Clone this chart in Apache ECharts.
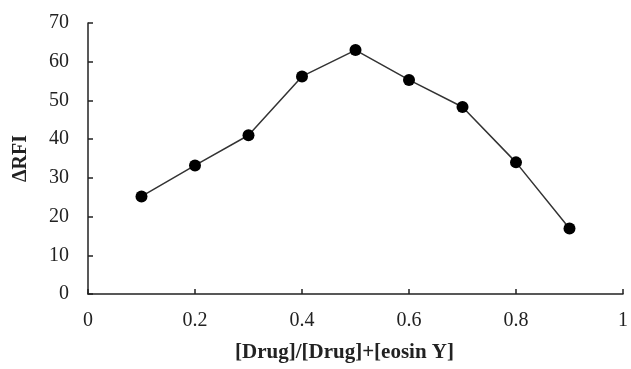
<!DOCTYPE html>
<html><head><meta charset="utf-8">
<script src="https://cdn.jsdelivr.net/npm/echarts@6/dist/echarts.min.js"></script>
<style>html,body{margin:0;padding:0;background:#fff}#c{width:631px;height:369px}</style>
</head><body><div id="c"></div>
<script>
const xValues = [0.1, 0.2, 0.3, 0.4, 0.5, 0.6, 0.7, 0.8, 0.9];
const yValues = [25.2, 33.2, 41, 56.2, 63, 55.3, 48.3, 34, 16.9];
const xTitle = '[Drug]/[Drug]+[eosin Y]';
const yTitle = 'ΔRFI';
const font = '"Liberation Serif","Times New Roman",serif';
const chart = echarts.init(document.getElementById('c'));
chart.setOption({
  animation: false,
  grid: {left: 88, right: 3, top: 23, bottom: 75},
  xAxis: {
    type: 'value', min: 0, max: 1, interval: 0.2,
    name: xTitle, nameLocation: 'middle', nameGap: 48,
    nameTextStyle: {fontFamily: font, fontSize: 21, fontWeight: 'bold', color: '#222', padding: [0, 22, 0, 0]},
    axisLine: {lineStyle: {color: '#222', width: 1.5}},
    axisTick: {inside: true, length: 5, lineStyle: {color: '#222', width: 1.5}},
    axisLabel: {fontFamily: font, fontSize: 20, color: '#222', margin: 17},
    splitLine: {show: false}
  },
  yAxis: {
    type: 'value', min: 0, max: 70, interval: 10,
    name: yTitle, nameLocation: 'middle', nameGap: 57, nameRotate: 90,
    nameTextStyle: {fontFamily: font, fontSize: 20, fontWeight: 'bold', color: '#222'},
    axisLine: {show: true, lineStyle: {color: '#222', width: 1.5}},
    axisTick: {show: true, inside: true, length: 5, lineStyle: {color: '#222', width: 1.5}},
    axisLabel: {fontFamily: font, fontSize: 20, color: '#222', margin: 19},
    splitLine: {show: false}
  },
  series: [{
    type: 'line',
    data: xValues.map((x, i) => [x, yValues[i]]),
    symbol: 'circle', symbolSize: 12,
    itemStyle: {color: '#000'},
    lineStyle: {color: '#333', width: 1.5}
  }]
});
</script></body></html>
